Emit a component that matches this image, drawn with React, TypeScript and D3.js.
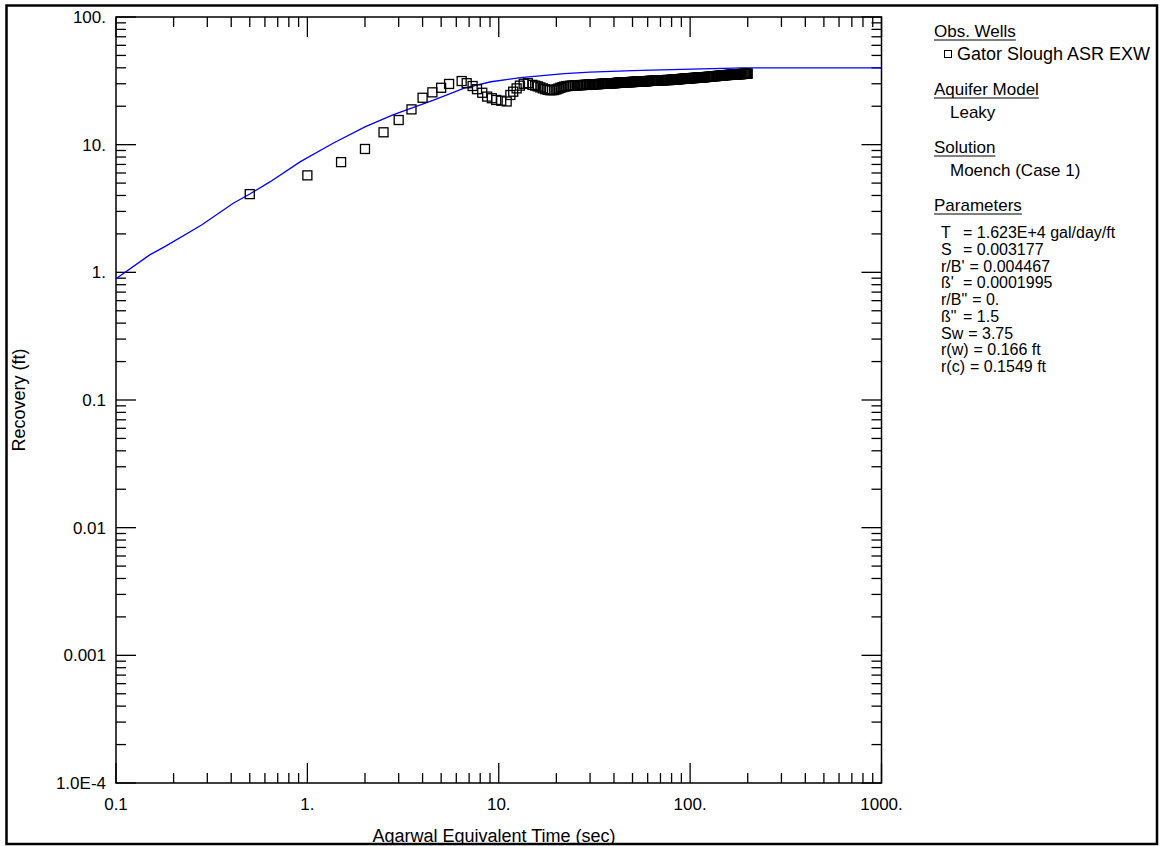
import React, { useEffect, useRef } from 'react';
import * as d3 from 'd3';

// observed recovery (Agarwal time in sec, recovery in ft)
const obsTime = [
  0.5, 1, 1.5, 2, 2.5, 3, 3.5, 4, 4.5, 5, 5.5,
  6.4, 6.8, 7.3, 7.7, 8.2, 8.7, 9.2, 9.7, 10.3, 11.0, 11.5, 11.9, 12.4, 12.9, 13.5, 14.2,
  15, 15.5, 16, 16.5, 17, 17.5, 18, 18.5, 19, 19.5, 20, 20.5, 21, 21.5, 22, 22.5,
  23, 23.5, 24, 24.5, 25, 25.5, 26, 26.5, 27, 27.5, 28, 28.5, 29, 29.5, 30,
  30.5, 31, 31.5, 32, 32.5, 33, 33.5, 34, 34.5, 35, 35.5, 36, 36.5, 37, 37.5, 38, 38.5, 39, 39.5, 40,
  40.5, 41, 41.5, 42, 42.5, 43, 43.5, 44, 44.5, 45, 45.5, 46, 46.5, 47, 47.5, 48, 48.5, 49, 49.5, 50,
  50.5, 51, 51.5, 52, 52.5, 53, 53.5, 54, 54.5, 55, 55.5, 56, 56.5, 57, 57.5, 58, 58.5, 59, 59.5, 60,
  61, 62, 63, 64, 65, 66, 67, 68, 69, 70, 71, 72, 73, 74, 75, 76, 77, 78, 79, 80,
  81, 82, 83, 84, 85, 86, 87, 88, 89, 90, 91, 92, 93, 94, 95, 96, 97, 98, 99, 100,
  101, 102, 103, 104, 105, 106, 107, 108, 109, 110, 111, 112, 113, 114, 115, 116, 117, 118, 119, 120,
  122, 124, 126, 128, 130, 132, 134, 136, 138, 140, 142, 144, 146, 148, 150, 152, 154, 156, 158, 160,
  162, 164, 166, 168, 170, 172, 174, 176, 178, 180, 182, 184, 186, 188, 190, 192, 194, 196, 198, 200,
];
const obsRecovery = [
  4.1, 5.75, 7.3, 9.25, 12.5, 15.6, 18.9, 23.3, 25.7, 27.9, 29.9,
  31.5, 30.3, 28.8, 27.2, 25.5, 23.8, 23.1, 22.4, 22.1, 21.8, 24.5, 26.0, 27.6, 29.0, 30.0, 30.3,
  29.4, 29.0, 28.6, 28.1, 27.6, 27.2, 26.9, 26.7, 26.7, 26.8, 27.1, 27.5, 27.9, 28.2, 28.5, 28.7,
  28.8, 28.9, 29.0, 29.0, 29.1, 29.1, 29.2, 29.2, 29.3, 29.3, 29.4, 29.4, 29.5, 29.5, 29.6,
  29.6, 29.65, 29.7, 29.7, 29.75, 29.8, 29.85, 29.9, 29.95, 30.0, 30.0, 30.05, 30.1, 30.1, 30.15, 30.2, 30.2, 30.25, 30.3, 30.3,
  30.35, 30.4, 30.45, 30.5, 30.55, 30.6, 30.65, 30.7, 30.7, 30.7, 30.75, 30.8, 30.8, 30.8, 30.85, 30.9, 30.9, 30.9, 30.95, 31.0,
  31.0, 31.0, 31.05, 31.1, 31.1, 31.1, 31.15, 31.2, 31.2, 31.2, 31.25, 31.3, 31.3, 31.3, 31.35, 31.4, 31.4, 31.4, 31.45, 31.5,
  31.55, 31.6, 31.65, 31.7, 31.75, 31.8, 31.8, 31.8, 31.85, 31.9, 31.95, 32.0, 32.0, 32.0, 32.05, 32.1, 32.1, 32.1, 32.15, 32.2,
  32.25, 32.3, 32.35, 32.4, 32.45, 32.5, 32.55, 32.6, 32.65, 32.7, 32.75, 32.8, 32.85, 32.9, 32.95, 33.0, 33.0, 33.0, 33.05, 33.1,
  33.15, 33.2, 33.25, 33.3, 33.3, 33.3, 33.35, 33.4, 33.45, 33.5, 33.55, 33.6, 33.6, 33.6, 33.65, 33.7, 33.75, 33.8, 33.8, 33.8,
  33.9, 34.0, 34.05, 34.1, 34.2, 34.3, 34.35, 34.4, 34.5, 34.6, 34.65, 34.7, 34.8, 34.9, 34.95, 35.0, 35.05, 35.1, 35.15, 35.2,
  35.25, 35.3, 35.35, 35.4, 35.45, 35.5, 35.55, 35.6, 35.6, 35.6, 35.65, 35.7, 35.75, 35.8, 35.85, 35.9, 35.9, 35.9, 35.95, 36.0,
];

// fitted Moench curve
const fitTime = [0.1, 0.15, 0.18, 0.28, 0.41, 0.5, 0.64, 0.92, 1.37, 2.0, 2.8, 4.6, 6.6, 9.1, 13, 22, 30, 50, 90, 190, 200, 1000];
const fitRecovery = [0.89, 1.37, 1.59, 2.35, 3.48, 4.11, 5.13, 7.36, 10.3, 13.8, 17.1, 22.4, 27.7, 31.1, 33.5, 36.0, 37.0, 38.0, 38.9, 40.0, 40.0, 40.0];

const xTickValues = [0.1, 1, 10, 100, 1000];
const xTickLabels = ['0.1', '1.', '10.', '100.', '1000.'];
const yTickValues = [1e-4, 0.001, 0.01, 0.1, 1, 10, 100];
const yTickLabels = ['1.0E-4', '0.001', '0.01', '0.1', '1.', '10.', '100.'];

const legendSections = ['Obs. Wells', 'Aquifer Model', 'Solution', 'Parameters'];
const wellName = 'Gator Slough ASR EXW';
const aquiferModel = 'Leaky';
const solutionName = 'Moench (Case 1)';
const paramNames = ['T', 'S', "r/B'", "ß'", 'r/B"', 'ß"', 'Sw', 'r(w)', 'r(c)'];
const paramValues = ['1.623E+4 gal/day/ft', '0.003177', '0.004467', '0.0001995', '0.', '1.5', '3.75', '0.166 ft', '0.1549 ft'];

const App = () => {
  const ref = useRef<SVGSVGElement>(null);

  useEffect(() => {
    const width = 1166, height = 846;
    const plot = { left: 116, right: 881.5, top: 17, bottom: 783 };
    const font = '"Liberation Sans", Arial, sans-serif';

    const svg = d3.select(ref.current);
    svg.selectAll('*').remove();
    svg.attr('width', width).attr('height', height).attr('font-family', font);

    svg.append('defs').append('clipPath').attr('id', 'frameClip')
      .append('rect').attr('x', 6).attr('y', 5).attr('width', 1151).attr('height', 839);

    const x = d3.scaleLog().domain([0.1, 1000]).range([plot.left, plot.right]);
    const y = d3.scaleLog().domain([1e-4, 100]).range([plot.bottom, plot.top]);

    const isMajor = (v: number) => Math.abs(Math.log10(v) - Math.round(Math.log10(v))) < 1e-9;

    // plot box
    svg.append('rect')
      .attr('x', plot.left).attr('y', plot.top)
      .attr('width', plot.right - plot.left).attr('height', plot.bottom - plot.top)
      .attr('fill', 'none').attr('stroke', 'black').attr('stroke-width', 1.5);

    // ticks, all pointing inward
    const ticks = svg.append('g').attr('stroke', 'black').attr('stroke-width', 1.3);
    x.ticks().forEach(t => {
      const len = isMajor(t) ? 20 : 10;
      const px = x(t);
      ticks.append('line').attr('x1', px).attr('x2', px).attr('y1', plot.bottom).attr('y2', plot.bottom - len);
      ticks.append('line').attr('x1', px).attr('x2', px).attr('y1', plot.top).attr('y2', plot.top + len);
    });
    y.ticks().forEach(t => {
      const len = isMajor(t) ? 20 : 10;
      const py = y(t);
      ticks.append('line').attr('y1', py).attr('y2', py).attr('x1', plot.left).attr('x2', plot.left + len);
      ticks.append('line').attr('y1', py).attr('y2', py).attr('x1', plot.right).attr('x2', plot.right - len);
    });

    // tick labels
    svg.append('g').selectAll('text').data(xTickValues).enter().append('text')
      .attr('x', d => x(d)).attr('y', 810)
      .attr('text-anchor', 'middle').attr('font-size', 17)
      .text((d, i) => xTickLabels[i]);
    svg.append('g').selectAll('text').data(yTickValues).enter().append('text')
      .attr('x', 106).attr('y', d => y(d)).attr('dy', '0.35em')
      .attr('text-anchor', 'end').attr('font-size', 17)
      .text((d, i) => yTickLabels[i]);

    // axis titles
    svg.append('text')
      .attr('x', 494).attr('y', 842)
      .attr('text-anchor', 'middle').attr('font-size', 18)
      .attr('clip-path', 'url(#frameClip)')
      .text('Agarwal Equivalent Time (sec)');
    svg.append('text')
      .attr('transform', 'translate(25,400) rotate(-90)')
      .attr('text-anchor', 'middle').attr('font-size', 18)
      .text('Recovery (ft)');

    // fitted curve
    const line = d3.line<number>()
      .x((d, i) => x(fitTime[i]))
      .y(d => y(d));
    svg.append('path')
      .datum(fitRecovery)
      .attr('d', line)
      .attr('fill', 'none').attr('stroke', '#0000ff').attr('stroke-width', 1.3);

    // observed data squares
    const s = 9;
    svg.append('g').selectAll('rect').data(obsRecovery).enter().append('rect')
      .attr('x', (d, i) => x(obsTime[i]) - s / 2)
      .attr('y', d => y(d) - s / 2)
      .attr('width', s).attr('height', s)
      .attr('fill', 'none').attr('stroke', 'black').attr('stroke-width', 1.3);

    // legend
    const legend = svg.append('g').attr('font-size', 17).attr('clip-path', 'url(#frameClip)');
    const header = (label: string, yy: number) => {
      const t = legend.append('text').attr('x', 934).attr('y', yy).text(label);
      const w = (t.node() as SVGTextElement).getComputedTextLength();
      legend.append('line').attr('x1', 934).attr('x2', 934 + w)
        .attr('y1', yy + 3).attr('y2', yy + 3).attr('stroke', 'black').attr('stroke-width', 1);
    };
    header(legendSections[0], 37);
    legend.append('rect').attr('x', 944.5).attr('y', 50.5).attr('width', 7).attr('height', 7)
      .attr('fill', 'none').attr('stroke', 'black').attr('stroke-width', 1);
    legend.append('text').attr('x', 957).attr('y', 60).attr('font-size', 18).text(wellName);
    header(legendSections[1], 95);
    legend.append('text').attr('x', 950).attr('y', 118).text(aquiferModel);
    header(legendSections[2], 153);
    legend.append('text').attr('x', 950).attr('y', 176).text(solutionName);
    header(legendSections[3], 211);
    const params = legend.append('g').attr('font-size', 16);
    paramNames.forEach((name, i) => {
      const yy = 238 + i * 16.75;
      const t = params.append('text').attr('x', 941).attr('y', yy).text(name);
      const w = (t.node() as SVGTextElement).getComputedTextLength();
      const eqX = Math.max(963, 941 + w + 5);
      params.append('text').attr('x', eqX).attr('y', yy).text('= ' + paramValues[i]);
    });

    // outer frame
    svg.append('rect')
      .attr('x', 6.5).attr('y', 5.5).attr('width', 1150.5).attr('height', 838.5)
      .attr('fill', 'none').attr('stroke', 'black').attr('stroke-width', 2.5);
  }, []);

  return (
    <div style={{ position: 'absolute', left: 0, top: 0, background: 'white' }}>
      <svg ref={ref} />
    </div>
  );
};

export default App;
